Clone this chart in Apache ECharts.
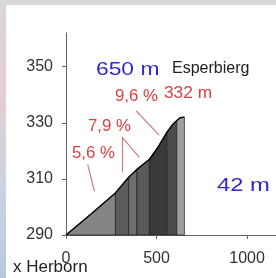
<!DOCTYPE html>
<html lang="de">
<head>
    <meta charset="UTF-8">
    <title>Esperbierg</title>
    <script src="https://cdn.jsdelivr.net/npm/echarts@6/dist/echarts.min.js"></script>
    <style>
        body {
            padding: 0;
            margin: 0;
            width: 276px;
            height: 278px;
            overflow: hidden;
            background: linear-gradient(180deg, #d9d6d9 0%, #e2cfd4 35%, #c9d3df 70%, #b7c9dc 100%);
        }
        #panel {
            position: absolute;
            left: 6px;
            top: 5px;
            width: 270px;
            height: 273px;
            background: #fff;
        }
        #ec {
            position: absolute;
            left: 0;
            top: 0;
            width: 276px;
            height: 278px;
        }
    </style>
</head>
<body>
<div id="panel"></div>
<div id="ec"></div>
<script>
    // Höhenprofil (Distanz in m, Höhe in m)
    const profileDist = [0, 140, 273, 346, 392, 461, 510, 557, 590, 612, 630, 654];
    const profileElev = [290, 297.6, 305.0, 310.6, 313.4, 317.0, 321.5, 326.6, 329.5, 330.8, 331.8, 332];
    // Abschnitte und Grautöne
    const segStart = [0, 273, 346, 392, 461, 557, 612];
    const segEnd = [273, 346, 392, 461, 557, 612, 654];
    const segColors = ['#858585', '#5c5c5c', '#6e6e6e', '#5a5a5a', '#3a3a3a', '#4b4b4b', '#9e9e9e'];
    const yTicks = [290, 310, 330, 350];
    const xTicks = [0, 500, 1000];
    // Hinweislinien der Steigungen
    const leaders = [
        [[120, 315.2], [157, 305.6]],
        [[310, 324.9], [310, 312.3]],
        [[310, 324.9], [405, 317.7]],
        [[388, 334.2], [515, 325.6]]
    ];

    const font = 'Liberation Sans, Arial, sans-serif';
    const red = '#dc4040';
    const blue = '#3228d2';

    function elevAt(d) {
        for (let i = 0; i < profileDist.length - 1; i++) {
            if (d >= profileDist[i] && d <= profileDist[i + 1]) {
                let t = (d - profileDist[i]) / (profileDist[i + 1] - profileDist[i]);
                return profileElev[i] + t * (profileElev[i + 1] - profileElev[i]);
            }
        }
        return profileElev[profileElev.length - 1];
    }

    let ec = echarts.init(document.getElementById('ec'));
    let option = {
        animation: false,
        backgroundColor: 'transparent',
        grid: {left: 66, top: 33, right: 0, bottom: 43},
        xAxis: {
            type: 'value',
            min: 0,
            max: 1160,
            splitLine: {show: false},
            axisLine: {lineStyle: {color: '#666', width: 1}},
            axisTick: {length: 4, lineStyle: {color: '#666'}, customValues: xTicks},
            axisLabel: {
                customValues: xTicks,
                formatter: v => String(v),
                color: '#333', fontSize: 16, fontFamily: font, margin: 16
            }
        },
        yAxis: {
            type: 'value',
            min: 290,
            max: 362,
            splitLine: {show: false},
            axisLine: {show: true, lineStyle: {color: '#666', width: 1}},
            axisTick: {show: true, length: 4, lineStyle: {color: '#666'}, customValues: yTicks},
            axisLabel: {
                customValues: yTicks,
                color: '#333', fontSize: 16, fontFamily: font, margin: 13
            }
        },
        series: [
            {
                type: 'custom',
                data: segStart.map((s, i) => [s, segEnd[i], i]),
                renderItem: function (params, api) {
                    let s = api.value(0), e = api.value(1), idx = api.value(2);
                    let pts = [api.coord([s, 290]), api.coord([s, elevAt(s)])];
                    profileDist.forEach((d, k) => {
                        if (d > s && d < e) pts.push(api.coord([d, profileElev[k]]));
                    });
                    pts.push(api.coord([e, elevAt(e)]));
                    pts.push(api.coord([e, 290]));
                    return {
                        type: 'polygon',
                        shape: {points: pts},
                        style: {fill: segColors[idx], stroke: '#1e1e1e', lineWidth: 0.7}
                    };
                },
                z: 2
            },
            {
                type: 'line',
                data: profileDist.map((d, i) => [d, profileElev[i]]),
                symbol: 'none',
                lineStyle: {color: '#000', width: 1.4},
                z: 3
            },
            {
                type: 'lines',
                coordinateSystem: 'cartesian2d',
                data: leaders.map(l => ({coords: l})),
                lineStyle: {color: '#d08080', width: 1.2, opacity: 1},
                z: 4
            }
        ],
        graphic: [
            {type: 'text', left: 96, top: 60, scaleX: 1.2, style: {text: '650 m', fill: blue, font: '19px ' + font}},
            {type: 'text', left: 172, top: 61, style: {text: 'Esperbierg', fill: '#222', font: '16px ' + font}},
            {type: 'text', left: 115, top: 89, scaleX: 1.05, style: {text: '9,6 %', fill: red, font: '16px ' + font}},
            {type: 'text', left: 164, top: 86, scaleX: 1.08, style: {text: '332 m', fill: red, font: '16px ' + font}},
            {type: 'text', left: 88, top: 119, scaleX: 1.05, style: {text: '7,9 %', fill: red, font: '16px ' + font}},
            {type: 'text', left: 72, top: 146, scaleX: 1.05, style: {text: '5,6 %', fill: red, font: '16px ' + font}},
            {type: 'text', left: 217, top: 176, scaleX: 1.25, style: {text: '42 m', fill: blue, font: '19px ' + font}},
            {type: 'text', left: 13, top: 259, style: {text: 'x Herborn', fill: '#222', font: '17px ' + font}}
        ]
    };
    ec.setOption(option);
</script>
</body>
</html>
